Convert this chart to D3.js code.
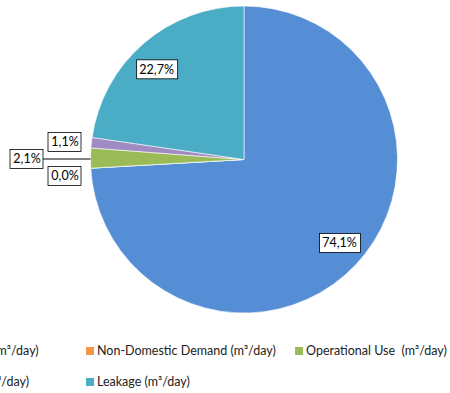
<!DOCTYPE html>
<html>
<head>
<meta charset="utf-8">
<script src="https://cdn.jsdelivr.net/npm/d3@7"></script>
<style>
  body { margin: 0; background: #fff; }
  svg { display: block; font-family: Lato, "Open Sans", sans-serif; }
  .leg text { white-space: pre; }
</style>
</head>
<body>
<svg id="chart" width="450" height="393"></svg>
<script>
// data, in drawing order (clockwise from 12 o'clock)
var categories = ["Domestic Demand (m³/day)", "Non-Domestic Demand (m³/day)", "Operational Use  (m³/day)",
                  "Customer Losses (m³/day)", "Leakage (m³/day)"];
var shares = [74.1, 0.0, 2.1, 1.1, 22.7];
var colours = ["#558ed5", "#f79646", "#9bbb59", "#a08cc2", "#4bacc6"];

var w = 450, h = 393;
var cx = 244, cy = 159.5, R = 153.5;

var svg = d3.select("#chart");
var fmt = d3.formatLocale({decimal: ",", thousands: "."}).format(".1f");

var pie = d3.pie().sort(null).value(function(d) { return d; });
var arcs = pie(shares);
var arc = d3.arc().innerRadius(0).outerRadius(R);
var labelArc = d3.arc().innerRadius(R * 0.82).outerRadius(R * 0.82);

var g = svg.append("g").attr("transform", "translate(" + cx + "," + cy + ")");

g.selectAll("path.slice")
  .data(arcs)
  .enter().append("path")
    .attr("class", "slice")
    .attr("d", arc)
    .attr("fill", function(d, i) { return colours[i]; })
    .attr("stroke", "#fff")
    .attr("stroke-width", 0.6);

// small slices get pushed outside to the left (excel style)
var outside = {1: [-179, 16.5], 2: [-217, -0.5], 3: [-179, -17.5]};

var labels = arcs.map(function(d, i) {
  var p = outside[i] ? outside[i] : labelArc.centroid(d);
  if (i == 0) p = [p[0] + 4, p[1] - 3];
  if (i == 4) p = [p[0] - 5, p[1] + 5];
  return {x: p[0], y: p[1], text: fmt(d.data) + "%", d: d, i: i};
});

// leader line for the middle one
var ld = labels[2];
var mid = (ld.d.startAngle + ld.d.endAngle) / 2;
g.append("line")
  .attr("x1", ld.x + 16)
  .attr("y1", ld.y)
  .attr("x2", Math.sin(mid) * R)
  .attr("y2", ld.y)
  .attr("stroke", "#000")
  .attr("stroke-width", 1);

var lab = g.selectAll("g.lab")
  .data(labels)
  .enter().append("g")
    .attr("class", "lab")
    .attr("transform", function(d) { return "translate(" + d.x + "," + d.y + ")"; });

lab.append("text")
  .attr("text-anchor", "middle")
  .attr("dy", "0.35em")
  .attr("font-size", 12.5)
  .attr("fill", "#000")
  .text(function(d) { return d.text; });

lab.each(function() {
  var t = d3.select(this).select("text");
  var bb = t.node().getBBox();
  d3.select(this).insert("rect", "text")
    .attr("x", -Math.round(bb.width / 2) - 3)
    .attr("y", -9.5)
    .attr("width", Math.round(bb.width) + 6)
    .attr("height", 19)
    .attr("fill", "#fff")
    .attr("stroke", "#000")
    .attr("stroke-width", 0.8);
});

// legend, 3 columns, cut off on the left like the original
var colX = [-123, 86, 295], rowY = [351, 382];
var leg = svg.selectAll("g.leg")
  .data(categories)
  .enter().append("g")
    .attr("class", "leg")
    .attr("transform", function(d, i) {
      return "translate(" + colX[i % 3] + "," + rowY[Math.floor(i / 3)] + ")";
    });

leg.append("rect")
  .attr("x", 0).attr("y", -4)
  .attr("width", 8).attr("height", 8)
  .attr("fill", function(d, i) { return colours[i]; });

leg.append("text")
  .attr("x", 11)
  .attr("dy", "0.35em")
  .attr("font-size", 12.5)
  .attr("fill", "#222")
  .text(function(d) { return d; });
</script>
</body>
</html>
